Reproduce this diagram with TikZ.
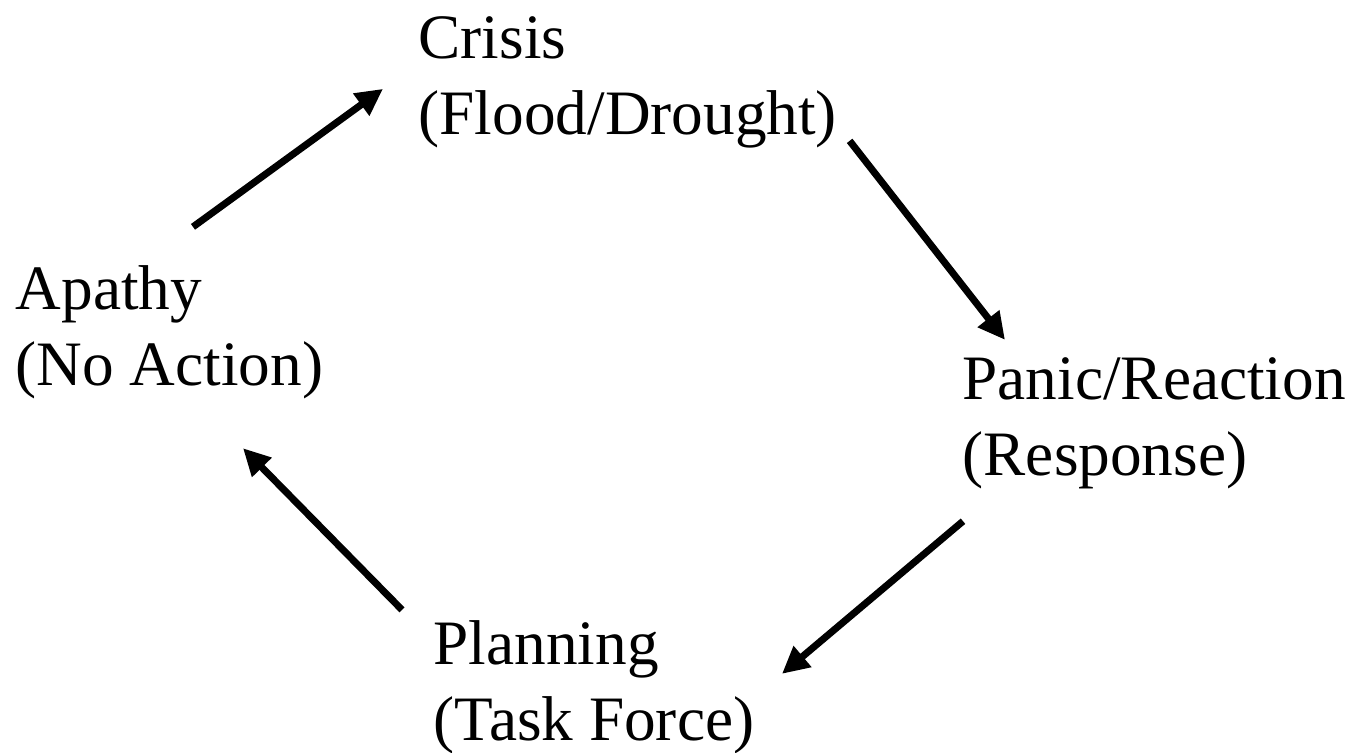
\documentclass[tikz,border=0pt]{standalone}
\usepackage{fontspec}
\setmainfont{Liberation Serif}
\usetikzlibrary{arrows.meta}

\begin{document}
\begin{tikzpicture}[>={Triangle[length=0.27cm,width=0.26cm]},
    stage/.style={align=left,inner sep=0pt,anchor=base west,
      font=\fontsize{18}{21.5}\selectfont},
    cyc/.style={->,line width=2pt}]
    \useasboundingbox (0,0) rectangle (13.57,-7.52);
    \node[stage] (crisis)   at (4.18,-1.34)  {Crisis\\(Flood/Drought)};
    \node[stage] (panic)    at (9.62,-4.75)  {Panic/Reaction\\(Response)};
    \node[stage] (planning) at (4.33,-7.40)  {Planning\\(Task Force)};
    \node[stage] (apathy)   at (0.15,-3.85)  {Apathy\\(No Action)};
    % the cycle
    \draw[cyc] ([shift={(1.78,0.38)}]apathy.north west)
      -- ([shift={(-0.35,-0.73)}]crisis.north west);
    \draw[cyc] ([shift={(0.12,-1.25)}]crisis.north east)
      -- ([shift={(0.43,0.17)}]panic.north west);
    \draw[cyc] ([shift={(0.01,-0.32)}]panic.south west)
      -- ([shift={(0.27,-0.54)}]planning.north east);
    \draw[cyc] ([shift={(-0.31,0.10)}]planning.north west)
      -- ([shift={(2.28,-0.49)}]apathy.south west);
  \end{tikzpicture}
\end{document}
